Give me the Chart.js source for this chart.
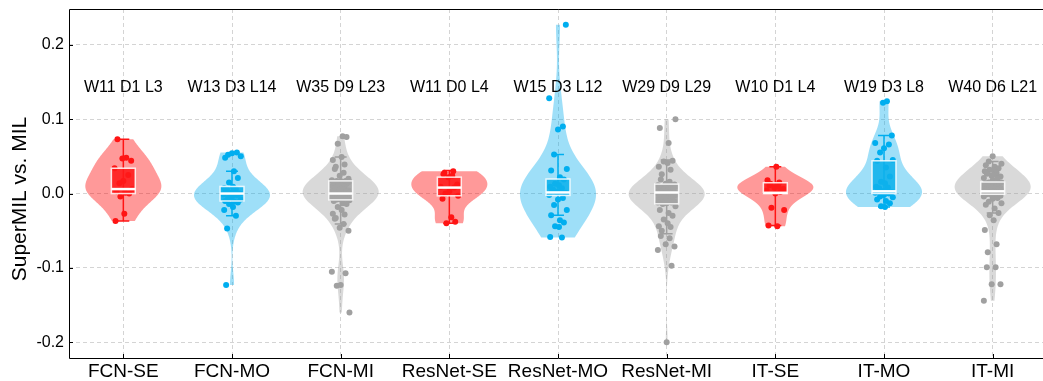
<!DOCTYPE html>
<html>
<head>
<meta charset="utf-8">
<script src="https://cdn.jsdelivr.net/npm/chart.js@4.4.1/dist/chart.umd.min.js"></script>
<style>
  html, body { margin: 0; padding: 0; overflow: hidden; background: #fff; }
  #wrap { width: 1050px; height: 381px; position: relative; }
</style>
</head>
<body>
<div id="wrap"><canvas id="violinChart"></canvas></div>
<script>
// --- Data ---
const categories = ['FCN-SE', 'FCN-MO', 'FCN-MI', 'ResNet-SE', 'ResNet-MO', 'ResNet-MI', 'IT-SE', 'IT-MO', 'IT-MI'];
const groupKinds = ['SE', 'MO', 'MI', 'SE', 'MO', 'MI', 'SE', 'MO', 'MI'];
const records = ['W11 D1 L3', 'W13 D3 L14', 'W35 D9 L23', 'W11 D0 L4', 'W15 D3 L12', 'W29 D9 L29', 'W10 D1 L4', 'W19 D3 L8', 'W40 D6 L21'];
const yTickValues = [-0.2, -0.1, 0.0, 0.1, 0.2];

const fcnSE = [0.073, 0.048, 0.047, 0.044, 0.034, 0.025, 0.017, 0.014, 0.006, 0.003, 0.001, 0.000, -0.004, -0.027, -0.037];
const fcnMO = [0.055, 0.054, 0.052, 0.050, 0.048, 0.030, 0.021, 0.015, 0.009, 0.007, 0.006, 0.005, 0.003, 0.002, 0.001,
               0.000, -0.001, -0.002, -0.004, -0.006, -0.008, -0.010, -0.011, -0.012, -0.014, -0.018, -0.022, -0.030, -0.047, -0.123];
const fcnMI = [0.077, 0.076, 0.067, 0.049, 0.045, 0.039, 0.036, 0.033, 0.028, 0.024, 0.020, 0.018,
               0.017, 0.017, 0.017, 0.016, 0.016, 0.015, 0.013, 0.012, 0.011, 0.010, 0.009, 0.008, 0.007, 0.006, 0.005,
               0.004, 0.003, 0.003, 0.002, 0.001, 0.001, 0.000,
               -0.001, -0.001, -0.001, -0.002, -0.002, -0.003, -0.003, -0.004, -0.004, -0.005, -0.006, -0.006, -0.007, -0.008, -0.008, -0.009,
               -0.010, -0.013, -0.014, -0.018, -0.022, -0.027, -0.028, -0.033, -0.034, -0.041, -0.046, -0.050,
               -0.105, -0.107, -0.123, -0.124, -0.160];
const resnetSE = [0.030, 0.028, 0.026, 0.024, 0.022, 0.012, 0.009, 0.008, 0.003, 0.000, -0.003, -0.007, -0.032, -0.038, -0.040];
const resnetMO = [0.227, 0.128, 0.090, 0.086, 0.0525, 0.033, 0.031, 0.022, 0.019, 0.013, 0.011, 0.009, 0.007, 0.005, 0.004,
                  0.003, 0.002, 0.001, -0.002, -0.006, -0.008, -0.0155, -0.022, -0.029, -0.036, -0.039, -0.044, -0.045, -0.0585, -0.059];
const resnetMI = [0.100, 0.088, 0.068, 0.044, 0.043, 0.041, 0.036, 0.032, 0.026, 0.019, 0.016, 0.013,
                  0.012, 0.011, 0.011, 0.010, 0.009, 0.009, 0.008, 0.007, 0.006, 0.006, 0.005, 0.004, 0.004, 0.003,
                  0.002, 0.002, 0.001, 0.001, 0.000, 0.000, -0.001, -0.002, -0.002, -0.003, -0.004, -0.005, -0.005,
                  -0.006, -0.007, -0.008, -0.008, -0.009, -0.010, -0.010, -0.011, -0.012, -0.012, -0.013, -0.014,
                  -0.017, -0.022, -0.026, -0.030, -0.035, -0.040, -0.044, -0.045, -0.050, -0.057, -0.060, -0.068,
                  -0.071, -0.076, -0.097, -0.200];
const itSE = [0.036, 0.018, 0.015, 0.013, 0.011, 0.009, 0.008, 0.006, 0.004, 0.002, 0.000, -0.019, -0.022, -0.043, -0.044];
const itMO = [0.124, 0.122, 0.078, 0.068, 0.066, 0.061, 0.055, 0.045, 0.044, 0.035, 0.023, 0.016, 0.014, 0.009, 0.008,
              0.007, 0.005, 0.004, 0.003, 0.002, 0.001, 0.000, -0.002, -0.004, -0.005, -0.008, -0.010, -0.013, -0.017, -0.018];
const itMI = [0.050, 0.043, 0.040, 0.038, 0.036, 0.034, 0.032, 0.031, 0.030, 0.028, 0.027, 0.027, 0.025, 0.024, 0.023, 0.021, 0.020, 0.018,
              0.015, 0.015, 0.014, 0.013, 0.013, 0.012, 0.012, 0.011, 0.010, 0.010, 0.009, 0.008, 0.008, 0.007, 0.006, 0.005,
              0.005, 0.004, 0.004, 0.003, 0.003, 0.002, 0.002, 0.001, 0.001, 0.000, 0.000, -0.001, -0.001, -0.002, -0.003, -0.004,
              -0.006, -0.007, -0.011, -0.013, -0.015, -0.020, -0.026, -0.029, -0.036, -0.049, -0.068, -0.079, -0.099, -0.099,
              -0.122, -0.122, -0.144];
const groupValues = [fcnSE, fcnMO, fcnMI, resnetSE, resnetMO, resnetMI, itSE, itMO, itMI];

// box statistics as drawn in the figure
const boxQ1 = [0.000, -0.010, -0.0085, -0.003, -0.0025, -0.0138, 0.000, 0.000, -0.001];
const boxMedian = [0.006, 0.000, 0.000, 0.008, 0.0015, 0.0014, 0.001, 0.003, 0.003];
const boxQ3 = [0.034, 0.0095, 0.017, 0.022, 0.0195, 0.0127, 0.0145, 0.044, 0.0155];
const whiskerLow = [-0.037, -0.030, -0.041, -0.040, -0.029, -0.054, -0.043, -0.018, -0.026];
const whiskerHigh = [0.073, 0.030, 0.049, 0.031, 0.0525, 0.045, 0.036, 0.078, 0.043];

// fixed horizontal scatter offsets (fraction of jitter width), cycled per point
const jitterPattern = [-0.6, 0.3, -0.1, 0.8, -0.9, 0.5, 0.0, -0.4, 0.9, -0.7, 0.2, 0.6, -0.3, 0.1, -0.8, 0.4, -0.5];

const palette = {
    SE: { violin: 'rgba(255, 0, 0, 0.40)', box: 'rgba(255, 25, 25, 0.88)', point: '#ff1414' },
    MO: { violin: 'rgba(0, 172, 236, 0.38)', box: 'rgba(15, 178, 236, 0.88)', point: '#00aeef' },
    MI: { violin: 'rgba(155, 155, 155, 0.38)', box: 'rgba(165, 165, 165, 0.88)', point: '#a0a0a0' }
};

const FONT = '"Liberation Sans", Arial, Helvetica, sans-serif';
const VIOLIN_HALF = 0.35;   // category units
const BOX_HALF = 0.11;
const CAP_HALF = 0.055;
const JITTER = 0.09;
const RECORD_Y = 0.142;

// --- Kernel density (Scott bandwidth), cut at the data range ---
function violinOutline(values) {
    const n = values.length;
    const mean = values.reduce((a, b) => a + b, 0) / n;
    const sd = Math.sqrt(values.reduce((a, v) => a + (v - mean) ** 2, 0) / (n - 1));
    const bw = sd * Math.pow(n, -0.2);
    const lo = Math.min(...values), hi = Math.max(...values);
    const outline = [];
    for (let i = 0; i <= 120; i++) {
        const y = lo + (hi - lo) * i / 120;
        let d = 0;
        values.forEach(v => { const z = (y - v) / bw; d += Math.exp(-0.5 * z * z); });
        outline.push({ y, d });
    }
    const maxD = Math.max(...outline.map(p => p.d));
    return outline.map(p => ({ y: p.y, w: p.d / maxD * VIOLIN_HALF }));
}

const outlines = groupValues.map(violinOutline);

// --- Custom drawing: violins, whiskers, boxes, labels ---
const violinPlugin = {
    id: 'violins',
    beforeDatasetsDraw(chart) {
        const { ctx, chartArea, scales: { x, y } } = chart;
        ctx.save();
        ctx.beginPath();
        ctx.rect(chartArea.left, chartArea.top, chartArea.right - chartArea.left, chartArea.bottom - chartArea.top);
        ctx.clip();
        outlines.forEach((outline, i) => {
            const c = i + 1;
            ctx.beginPath();
            outline.forEach((p, k) => {
                const px = x.getPixelForValue(c + p.w), py = y.getPixelForValue(p.y);
                k ? ctx.lineTo(px, py) : ctx.moveTo(px, py);
            });
            for (let k = outline.length - 1; k >= 0; k--) {
                ctx.lineTo(x.getPixelForValue(c - outline[k].w), y.getPixelForValue(outline[k].y));
            }
            ctx.closePath();
            ctx.fillStyle = palette[groupKinds[i]].violin;
            ctx.fill();

            // whisker with caps
            const cx = x.getPixelForValue(c);
            const capW = x.getPixelForValue(c + CAP_HALF) - cx;
            const yLo = y.getPixelForValue(whiskerLow[i]), yHi = y.getPixelForValue(whiskerHigh[i]);
            ctx.strokeStyle = palette[groupKinds[i]].point;
            ctx.lineWidth = 1.5;
            ctx.beginPath();
            ctx.moveTo(cx, yLo); ctx.lineTo(cx, yHi);
            ctx.moveTo(cx - capW, yLo); ctx.lineTo(cx + capW, yLo);
            ctx.moveTo(cx - capW, yHi); ctx.lineTo(cx + capW, yHi);
            ctx.stroke();
        });
        ctx.restore();
    },
    afterDatasetsDraw(chart) {
        const { ctx, chartArea, scales: { x, y } } = chart;
        ctx.save();
        categories.forEach((cat, i) => {
            const c = i + 1;
            const x0 = x.getPixelForValue(c - BOX_HALF), x1 = x.getPixelForValue(c + BOX_HALF);
            const yTop = y.getPixelForValue(boxQ3[i]), yBot = y.getPixelForValue(boxQ1[i]);
            ctx.fillStyle = palette[groupKinds[i]].box;
            ctx.fillRect(x0, yTop, x1 - x0, yBot - yTop);
            ctx.strokeStyle = 'rgba(255,255,255,0.85)';
            ctx.lineWidth = 1.5;
            ctx.strokeRect(x0, yTop, x1 - x0, yBot - yTop);
            const ym = y.getPixelForValue(boxMedian[i]);
            ctx.strokeStyle = '#ffffff';
            ctx.lineWidth = 2.5;
            ctx.beginPath();
            ctx.moveTo(x0, ym); ctx.lineTo(x1, ym);
            ctx.stroke();

            // W/D/L record above each violin
            ctx.fillStyle = '#000';
            ctx.font = '16px ' + FONT;
            ctx.textAlign = 'center';
            ctx.textBaseline = 'middle';
            ctx.fillText(records[i], x.getPixelForValue(c), y.getPixelForValue(RECORD_Y));
        });

        // axes frame (left, bottom, top) and inward ticks
        ctx.strokeStyle = '#000';
        ctx.lineWidth = 1;
        ctx.beginPath();
        ctx.moveTo(chartArea.left + 0.5, chartArea.top + 0.5);
        ctx.lineTo(chartArea.left + 0.5, chartArea.bottom + 0.5);
        ctx.lineTo(chartArea.right, chartArea.bottom + 0.5);
        ctx.moveTo(chartArea.left + 0.5, chartArea.top + 0.5);
        ctx.lineTo(chartArea.right, chartArea.top + 0.5);
        categories.forEach((cat, i) => {
            const px = Math.round(x.getPixelForValue(i + 1)) + 0.5;
            ctx.moveTo(px, chartArea.bottom);
            ctx.lineTo(px, chartArea.bottom - 4);
        });
        yTickValues.forEach(v => {
            const py = Math.round(y.getPixelForValue(v)) + 0.5;
            ctx.moveTo(chartArea.left, py);
            ctx.lineTo(chartArea.left + 4, py);
        });
        ctx.stroke();

        // y axis title
        ctx.translate(20, 199);
        ctx.rotate(-Math.PI / 2);
        ctx.font = '21px ' + FONT;
        ctx.textAlign = 'center';
        ctx.textBaseline = 'middle';
        ctx.fillStyle = '#000';
        ctx.fillText('SuperMIL vs. MIL', 0, 0);
        ctx.restore();
    }
};

// --- Scatter datasets for the individual points ---
const datasets = groupValues.map((vals, i) => ({
    label: categories[i],
    data: vals.map((v, k) => ({ x: i + 1 + jitterPattern[(k + i * 5) % jitterPattern.length] * JITTER, y: v })),
    backgroundColor: palette[groupKinds[i]].point,
    borderWidth: 0,
    pointRadius: 3,
    pointHoverRadius: 3
}));

new Chart(document.getElementById('violinChart'), {
    type: 'scatter',
    data: { datasets },
    plugins: [violinPlugin],
    options: {
        responsive: true,
        maintainAspectRatio: false,
        animation: false,
        layout: { padding: { top: 9, right: 0, left: 0, bottom: 0 } },
        plugins: { legend: { display: false }, tooltip: { enabled: false } },
        scales: {
            x: {
                type: 'linear',
                min: 0.5,
                max: 9.5,
                afterBuildTicks: s => { s.ticks = categories.map((c, i) => ({ value: i + 1 })); },
                afterFit: s => { s.height = 23; },
                grid: { color: '#d4d4d4', lineWidth: 1, drawTicks: false },
                border: { display: false, dash: [4, 3] },
                ticks: {
                    autoSkip: false,
                    maxRotation: 0,
                    padding: 2,
                    color: '#000',
                    font: { family: FONT, size: 19 },
                    callback: v => categories[Math.round(v) - 1] || ''
                }
            },
            y: {
                min: -0.221,
                max: 0.248,
                afterBuildTicks: s => { s.ticks = yTickValues.map(v => ({ value: v })); },
                afterFit: s => { s.width = 69; s.paddingTop = 0; s.paddingBottom = 0; },
                grid: { color: '#d4d4d4', lineWidth: 1, drawTicks: false },
                border: { display: false, dash: [4, 3] },
                ticks: {
                    padding: 5,
                    color: '#000',
                    font: { family: FONT, size: 16 },
                    callback: v => Number(v).toFixed(1)
                }
            }
        }
    }
});
</script>
</body>
</html>
